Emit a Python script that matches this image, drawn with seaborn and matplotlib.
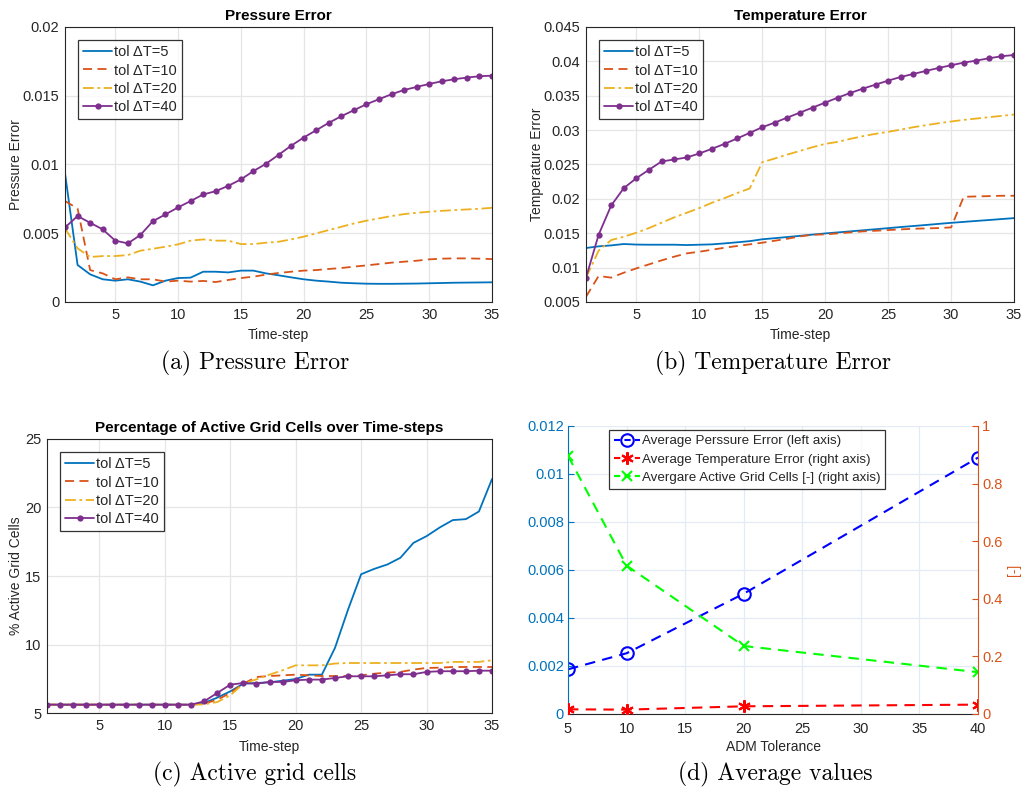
import numpy as np
import pandas as pd
import matplotlib
matplotlib.use("Agg")
import matplotlib.pyplot as plt
from matplotlib.ticker import FuncFormatter, MultipleLocator
import seaborn as sns

# time-steps
steps = list(range(1, 36))

# Pressure error per tolerance
p_tol5 = [0.00935, 0.00269, 0.00201, 0.00165, 0.00155, 0.00165, 0.00148, 0.00121, 0.00155, 0.00174,
          0.00177, 0.00220, 0.00220, 0.00215, 0.00228, 0.00228, 0.00208, 0.00194, 0.00179, 0.00165,
          0.00155, 0.00148, 0.00140, 0.00136, 0.00133, 0.00132, 0.00132, 0.00133, 0.00134, 0.00136,
          0.00138, 0.00140, 0.00141, 0.00142, 0.00143]
p_tol10 = [0.00734, 0.00680, 0.00232, 0.00208, 0.00165, 0.00179, 0.00165, 0.00165, 0.00148, 0.00155,
           0.00148, 0.00153, 0.00145, 0.00160, 0.00174, 0.00184, 0.00199, 0.00211, 0.00220, 0.00228,
           0.00232, 0.00240, 0.00247, 0.00257, 0.00266, 0.00276, 0.00286, 0.00293, 0.00300, 0.00310,
           0.00315, 0.00317, 0.00317, 0.00315, 0.00312]
p_tol20 = [0.00535, 0.00390, 0.00327, 0.00334, 0.00334, 0.00341, 0.00373, 0.00387, 0.00402, 0.00419,
           0.00446, 0.00455, 0.00446, 0.00446, 0.00421, 0.00421, 0.00431, 0.00438, 0.00455, 0.00475,
           0.00499, 0.00523, 0.00547, 0.00571, 0.00591, 0.00608, 0.00625, 0.00639, 0.00649, 0.00656,
           0.00663, 0.00668, 0.00673, 0.00678, 0.00685]
p_tol40 = [0.00542, 0.00625, 0.00576, 0.00528, 0.00446, 0.00426, 0.00487, 0.00588, 0.00637, 0.00688,
           0.00734, 0.00782, 0.00806, 0.00845, 0.00891, 0.00952, 0.01005, 0.01070, 0.01136, 0.01196,
           0.01249, 0.01303, 0.01351, 0.01395, 0.01438, 0.01475, 0.01511, 0.01542, 0.01564, 0.01586,
           0.01605, 0.01620, 0.01632, 0.01642, 0.01646]

# Temperature error per tolerance
t_tol5 = [0.01285, 0.01309, 0.01323, 0.01343, 0.01335, 0.01333, 0.01333, 0.01333, 0.01328, 0.01333,
          0.01338, 0.01352, 0.01368, 0.01385, 0.01412, 0.01428, 0.01445, 0.01462, 0.01480, 0.01497,
          0.01512, 0.01527, 0.01543, 0.01558, 0.01574, 0.01590, 0.01605, 0.01620, 0.01636, 0.01651,
          0.01665, 0.01679, 0.01692, 0.01706, 0.01720]
t_tol10 = [0.00577, 0.00878, 0.00854, 0.00926, 0.00989, 0.01047, 0.01105, 0.01159, 0.01207, 0.01231,
           0.01260, 0.01289, 0.01314, 0.01338, 0.01362, 0.01391, 0.01420, 0.01454, 0.01478, 0.01483,
           0.01498, 0.01512, 0.01527, 0.01536, 0.01546, 0.01556, 0.01565, 0.01570, 0.01575, 0.01585,
           0.02030, 0.02035, 0.02040, 0.02045, 0.02045]
t_tol20 = [0.00854, 0.01246, 0.01401, 0.01449, 0.01507, 0.01575, 0.01653, 0.01730, 0.01798, 0.01866,
           0.01943, 0.02011, 0.02084, 0.02151, 0.02534, 0.02587, 0.02645, 0.02698, 0.02752, 0.02800,
           0.02829, 0.02873, 0.02912, 0.02946, 0.02975, 0.03008, 0.03042, 0.03071, 0.03100, 0.03125,
           0.03149, 0.03168, 0.03188, 0.03207, 0.03226]
t_tol40 = [0.00854, 0.01478, 0.01904, 0.02156, 0.02301, 0.02423, 0.02544, 0.02573, 0.02602, 0.02660,
           0.02728, 0.02800, 0.02878, 0.02960, 0.03042, 0.03110, 0.03183, 0.03255, 0.03328, 0.03400,
           0.03473, 0.03541, 0.03604, 0.03662, 0.03720, 0.03773, 0.03817, 0.03861, 0.03904, 0.03943,
           0.03982, 0.04011, 0.04045, 0.04074, 0.04093]

# % active grid cells per tolerance
a_tol5 = [5.61] * 12 + [5.73, 6.12, 6.58, 7.14, 7.19, 7.24, 7.36, 7.48, 7.80, 7.80, 9.75, 12.55,
                        15.13, 15.52, 15.84, 16.33, 17.42, 17.91, 18.54, 19.08, 19.15, 19.71, 22.08]
a_tol10 = [5.61] * 12 + [5.68, 5.97, 6.46, 7.14, 7.63, 7.70, 7.75, 7.80, 7.75, 7.70, 7.70, 7.70,
                         7.75, 7.87, 7.95, 8.00, 8.17, 8.29, 8.31, 8.36, 8.36, 8.36, 8.36]
a_tol20 = [5.61] * 12 + [5.63, 5.80, 6.29, 7.14, 7.46, 7.80, 8.12, 8.48, 8.48, 8.48, 8.61, 8.65,
                         8.65, 8.65, 8.65, 8.65, 8.65, 8.65, 8.65, 8.73, 8.73, 8.73, 8.85]
a_tol40 = [5.61] * 12 + [5.85, 6.46, 7.07, 7.19, 7.14, 7.27, 7.27, 7.39, 7.44, 7.44, 7.56, 7.68,
                         7.68, 7.68, 7.75, 7.83, 7.83, 8.00, 8.05, 8.05, 8.05, 8.09, 8.09]

# averages vs ADM tolerance
adm_tol = [5, 10, 20, 40]
avg_pressure = [0.00186, 0.00253, 0.00501, 0.01068]
avg_temperature = [0.0162, 0.0150, 0.0266, 0.0324]
avg_active = [0.896, 0.515, 0.236, 0.145]

series_labels = ["tol ΔT=5", "tol ΔT=10", "tol ΔT=20", "tol ΔT=40"]

sns.set_theme(style="whitegrid")
plt.rcParams["font.family"] = ["Liberation Sans", "DejaVu Sans"]

TXT = "#262626"
GRID = "#e6e6e6"
C_BLUE, C_ORANGE, C_YELLOW, C_PURPLE = "#0072BD", "#D95319", "#EDB120", "#7E2F8E"
styles = [
    dict(color=C_BLUE, linestyle="-"),
    dict(color=C_ORANGE, linestyle=(0, (5, 3))),
    dict(color=C_YELLOW, linestyle=(0, (6, 2, 1.5, 2))),
    dict(color=C_PURPLE, linestyle="-", marker="o", markersize=4.5, markeredgewidth=0),
]


def g_fmt(v, pos):
    return f"{v:g}"


def style_axes(ax, title, ylabel, ypad):
    ax.set_facecolor("white")
    ax.grid(True, color=GRID, linewidth=0.9)
    for s in ax.spines.values():
        s.set_color(TXT)
        s.set_linewidth(0.8)
        s.set_visible(True)
    ax.tick_params(direction="in", length=4, width=0.8, colors=TXT, labelsize=10.5,
                   top=False, right=False, pad=4)
    ax.set_title(title, fontsize=11, fontweight="bold", color="black", pad=5)
    ax.set_xlabel("Time-step", fontsize=10, color=TXT, labelpad=5)
    ax.set_ylabel(ylabel, fontsize=10, color=TXT, labelpad=ypad)
    ax.set_xlim(1, 35)
    ax.xaxis.set_major_locator(MultipleLocator(5))
    ax.yaxis.set_major_formatter(FuncFormatter(g_fmt))


def draw_series(ax, series):
    for vals, lab, st in zip(series, series_labels, styles):
        df = pd.DataFrame({"step": steps, "value": vals})
        sns.lineplot(data=df, x="step", y="value", ax=ax, label=lab, linewidth=1.3, **st)
    leg = ax.legend(loc="upper left", fontsize=10.5, frameon=True, fancybox=False,
                    borderaxespad=0.9, handlelength=2.0, handletextpad=0.1,
                    borderpad=0.35, labelspacing=0.3)
    leg.get_frame().set_edgecolor("black")
    leg.get_frame().set_linewidth(0.9)


fig = plt.figure(figsize=(10.24, 7.87), dpi=100)
fig.patch.set_facecolor("white")

# (a) pressure error
ax_a = fig.add_axes([0.0635, 0.6163, 0.417, 0.3494])
draw_series(ax_a, [p_tol5, p_tol10, p_tol20, p_tol40])
style_axes(ax_a, "Pressure Error", "Pressure Error", 0)
ax_a.set_ylim(0, 0.02)
ax_a.yaxis.set_major_locator(MultipleLocator(0.005))

# (b) temperature error
ax_b = fig.add_axes([0.5723, 0.6163, 0.418, 0.3494])
draw_series(ax_b, [t_tol5, t_tol10, t_tol20, t_tol40])
style_axes(ax_b, "Temperature Error", "Temperature Error", 0)
ax_b.set_ylim(0.005, 0.045)
ax_b.yaxis.set_major_locator(MultipleLocator(0.005))

# (c) active grid cells
ax_c = fig.add_axes([0.0459, 0.094, 0.4346, 0.3482])
draw_series(ax_c, [a_tol5, a_tol10, a_tol20, a_tol40])
style_axes(ax_c, "Percentage of Active Grid Cells over Time-steps", "% Active Grid Cells", 1.5)
ax_c.set_ylim(5, 25)
ax_c.yaxis.set_major_locator(MultipleLocator(5))

# (d) averages, two y axes
ax_d = fig.add_axes([0.5547, 0.0928, 0.4004, 0.366])
ax_d.set_facecolor("white")
ax_d2 = ax_d.twinx()
ax_d2.grid(False)
ax_d.grid(True, color="#e4ebf2", linewidth=0.9)

df_p = pd.DataFrame({"tol": adm_tol, "v": avg_pressure})
df_t = pd.DataFrame({"tol": adm_tol, "v": avg_temperature})
df_g = pd.DataFrame({"tol": adm_tol, "v": avg_active})
sns.lineplot(data=df_p, x="tol", y="v", ax=ax_d, color="#0000FF", linestyle=(0, (5, 3.5)),
             linewidth=1.5, marker="o", markersize=9, markerfacecolor="none",
             markeredgecolor="#0000FF", markeredgewidth=1.5, legend=False)
sns.lineplot(data=df_t, x="tol", y="v", ax=ax_d2, color="#FF0000", linestyle=(0, (5, 3.5)),
             linewidth=1.5, marker=(6, 2, 0), markersize=9, markeredgecolor="#FF0000",
             markeredgewidth=1.5, legend=False)
sns.lineplot(data=df_g, x="tol", y="v", ax=ax_d2, color="#00FF00", linestyle=(0, (5, 3.5)),
             linewidth=1.5, marker="x", markersize=7, markeredgecolor="#00FF00",
             markeredgewidth=1.5, legend=False)

ax_d.set_xlim(5, 40)
ax_d.set_ylim(0, 0.012)
ax_d2.set_ylim(0, 1)
ax_d.xaxis.set_major_locator(MultipleLocator(5))
ax_d.yaxis.set_major_locator(MultipleLocator(0.002))
ax_d2.yaxis.set_major_locator(MultipleLocator(0.2))
ax_d.yaxis.set_major_formatter(FuncFormatter(g_fmt))
ax_d2.yaxis.set_major_formatter(FuncFormatter(g_fmt))
ax_d.set_xlabel("ADM Tolerance", fontsize=10, color=TXT, labelpad=3)
ax_d.set_ylabel("")
ax_d2.set_ylabel("[-]", fontsize=10, color=C_ORANGE, labelpad=3)

for a in (ax_d, ax_d2):
    for s in a.spines.values():
        s.set_visible(True)
        s.set_linewidth(0.8)
    a.spines["top"].set_visible(False)
ax_d.spines["bottom"].set_color(TXT)
ax_d.spines["left"].set_color(C_BLUE)
ax_d.spines["right"].set_visible(False)
ax_d2.spines["left"].set_visible(False)
ax_d2.spines["bottom"].set_visible(False)
ax_d2.spines["right"].set_color(C_ORANGE)
ax_d.tick_params(axis="x", direction="in", length=4, width=0.8, colors=TXT, labelsize=10.5, pad=6)
ax_d.tick_params(axis="y", direction="in", length=4, width=0.8, colors=C_BLUE, labelsize=10.5, pad=3)
ax_d2.tick_params(axis="y", direction="in", length=4, width=0.8, colors=C_ORANGE, labelsize=10.5, pad=3)

handles = [
    plt.Line2D([], [], color="#0000FF", linestyle=(0, (3, 2)), linewidth=1.5, marker="o",
               markersize=9, markerfacecolor="none", markeredgewidth=1.5),
    plt.Line2D([], [], color="#FF0000", linestyle=(0, (3, 2)), linewidth=1.5, marker=(6, 2, 0),
               markersize=9, markeredgewidth=1.5),
    plt.Line2D([], [], color="#00FF00", linestyle=(0, (3, 2)), linewidth=1.5, marker="x",
               markersize=7, markeredgewidth=1.5),
]
leg_labels = ["Average Perssure Error (left axis)",
              "Average Temperature Error (right axis)",
              "Avergare Active Grid Cells [-] (right axis)"]
leg = ax_d2.legend(handles, leg_labels, loc="upper left", bbox_to_anchor=(0.1, 0.985),
                   fontsize=9.6, frameon=True, fancybox=False, handlelength=2.0,
                   handletextpad=0.1, borderpad=0.35, labelspacing=0.45, borderaxespad=0)
leg.get_frame().set_edgecolor("black")
leg.get_frame().set_linewidth(0.9)

# sub-figure captions
cap = dict(fontsize=17, family=["cmr10", "DejaVu Serif"], ha="center", va="center", color="black")
fig.text(0.249, 0.538, "(a) Pressure Error", **cap)
fig.text(0.755, 0.538, "(b) Temperature Error", **cap)
fig.text(0.249, 0.016, "(c) Active grid cells", **cap)
fig.text(0.757, 0.016, "(d) Average values", **cap)

fig.savefig("out.png", dpi=100, facecolor="white")
